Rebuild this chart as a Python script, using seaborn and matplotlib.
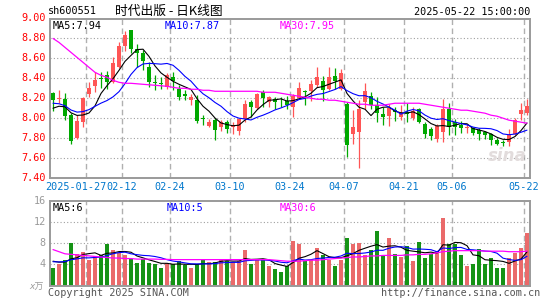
import numpy as np
import pandas as pd
import matplotlib
matplotlib.use("Agg")
import matplotlib.pyplot as plt
import seaborn as sns

# ---------------- data ----------------
open_ = [8.25, 8.19, 8.19, 8.03, 7.80, 7.96, 8.24, 8.32, 8.40, 8.43,
         8.36, 8.51, 8.72, 8.88, 8.69, 8.65, 8.51, 8.36, 8.35, 8.31,
         8.41, 8.29, 8.24, 8.18, 8.18, 8.00, 7.92, 7.98, 7.91, 7.96,
         7.91, 7.87, 7.99, 8.16, 8.10, 8.26, 8.16, 8.19, 8.165, 8.17,
         8.11, 8.20, 8.27, 8.27, 8.33, 8.37, 8.29, 8.42, 8.29, 8.14,
         7.84, 7.86, 8.16, 8.22, 8.13, 8.04, 8.02, 8.08, 8.01, 8.06,
         8.00, 8.09, 7.94, 7.89, 7.79, 7.86, 8.09, 7.96, 7.93, 7.905,
         7.90, 7.88, 7.86, 7.84, 7.78, 7.755, 7.76, 7.84, 8.04, 8.05]
high = [8.26, 8.28, 8.25, 8.05, 8.03, 8.21, 8.36, 8.46, 8.46, 8.47,
        8.61, 8.76, 8.87, 8.88, 8.74, 8.68, 8.56, 8.43, 8.41, 8.45,
        8.46, 8.33, 8.28, 8.24, 8.23, 8.03, 7.99, 8.00, 7.98, 7.98,
        7.96, 8.00, 8.18, 8.18, 8.25, 8.28, 8.22, 8.21, 8.21, 8.22,
        8.24, 8.36, 8.28, 8.38, 8.51, 8.42, 8.51, 8.50, 8.49, 8.16,
        8.08, 8.18, 8.35, 8.26, 8.21, 8.11, 8.14, 8.11, 8.13, 8.15,
        8.11, 8.10, 7.96, 7.91, 7.94, 8.19, 8.15, 7.99, 7.97, 7.94,
        7.91, 7.90, 7.87, 7.85, 7.80, 7.78, 7.89, 8.00, 8.15, 8.19]
low = [8.07, 8.15, 7.98, 7.74, 7.79, 7.91, 8.21, 8.26, 8.30, 8.29,
       8.35, 8.50, 8.67, 8.65, 8.51, 8.48, 8.31, 8.28, 8.29, 8.29,
       8.28, 8.18, 8.18, 8.13, 7.95, 7.93, 7.91, 7.78, 7.87, 7.85,
       7.84, 7.83, 7.96, 8.01, 8.09, 8.11, 8.11, 8.09, 8.11, 8.09,
       8.01, 8.19, 8.13, 8.17, 8.31, 8.17, 8.28, 8.29, 8.28, 7.61,
       7.74, 7.50, 8.09, 8.09, 7.96, 7.93, 7.92, 7.97, 7.98, 7.96,
       7.98, 7.95, 7.80, 7.78, 7.76, 7.76, 7.83, 7.83, 7.85, 7.85,
       7.83, 7.78, 7.79, 7.73, 7.73, 7.72, 7.72, 7.83, 7.98, 8.03]
close = [8.18, 8.20, 8.02, 7.77, 7.97, 8.20, 8.30, 8.38, 8.39, 8.36,
         8.55, 8.72, 8.83, 8.69, 8.65, 8.57, 8.36, 8.35, 8.34, 8.43,
         8.37, 8.21, 8.22, 8.21, 7.97, 7.99, 7.96, 7.88, 7.96, 7.89,
         7.93, 7.99, 8.14, 8.11, 8.24, 8.20, 8.21, 8.16, 8.16, 8.13,
         8.22, 8.30, 8.26, 8.34, 8.41, 8.28, 8.41, 8.37, 8.45, 7.73,
         7.91, 8.09, 8.27, 8.13, 8.05, 8.01, 8.10, 8.06, 8.05, 8.04,
         8.07, 7.96, 7.84, 7.82, 7.92, 8.09, 7.91, 7.91, 7.90, 7.91,
         7.85, 7.84, 7.83, 7.78, 7.74, 7.75, 7.83, 7.98, 8.08, 8.12]
# closes of the 9 sessions before the window (estimated from MA start)
prior_close = [8.25, 8.22, 8.20, 8.18, 8.15, 8.10, 8.05, 8.07, 8.10]

ma30 = [8.80, 8.76, 8.71, 8.66, 8.61, 8.56, 8.51, 8.46, 8.43, 8.41,
        8.38, 8.36, 8.35, 8.35, 8.345, 8.34, 8.335, 8.33, 8.325, 8.32,
        8.31, 8.30, 8.30, 8.29, 8.29, 8.28, 8.28, 8.27, 8.27, 8.27,
        8.27, 8.27, 8.27, 8.27, 8.27, 8.26, 8.26, 8.26, 8.25, 8.24,
        8.23, 8.22, 8.21, 8.20, 8.19, 8.19, 8.18, 8.18, 8.17, 8.16,
        8.15, 8.14, 8.14, 8.13, 8.13, 8.13, 8.14, 8.15, 8.15, 8.15,
        8.15, 8.15, 8.14, 8.13, 8.12, 8.11, 8.10, 8.09, 8.08, 8.08,
        8.07, 8.06, 8.05, 8.03, 8.02, 8.00, 7.98, 7.97, 7.96, 7.95]

volume = [3.3, 4.1, 4.9, 8.1, 5.9, 6.4, 4.9, 5.6, 5.7, 7.9,
          6.7, 6.2, 5.7, 5.0, 4.3, 5.0, 4.3, 4.1, 3.3, 4.3,
          4.1, 4.6, 3.8, 3.3, 4.1, 4.9, 4.5, 4.5, 4.9, 4.7,
          4.5, 4.6, 6.8, 4.1, 4.9, 4.9, 3.7, 3.2, 2.6, 3.7,
          8.5, 7.8, 4.7, 4.9, 7.1, 5.7, 4.9, 3.7, 4.9, 8.9,
          7.8, 8.0, 5.7, 6.8, 10.4, 5.5, 8.9, 6.0, 5.4, 7.5,
          4.7, 8.2, 5.2, 6.0, 6.5, 12.7, 7.8, 7.8, 5.7, 3.7,
          4.0, 7.0, 4.0, 5.2, 3.3, 3.3, 5.2, 6.2, 7.1, 10.0]
prior_volume = [4.5, 4.2, 4.6, 4.3, 4.4, 5.0, 4.8, 5.1, 4.8]
vol_ma30 = [6.8, 6.4, 6.0, 5.9, 5.8, 5.7, 5.6, 5.5, 5.4, 5.3,
            5.2, 5.2, 5.1, 5.1, 5.0, 5.0, 5.0, 5.0, 4.95, 4.95,
            4.9, 4.9, 4.9, 4.9, 4.9, 4.9, 4.9, 4.9, 4.9, 4.9,
            4.9, 4.9, 4.9, 4.9, 4.9, 4.9, 4.9, 4.8, 4.7, 4.6,
            4.6, 4.6, 4.7, 4.8, 4.8, 4.9, 5.0, 5.1, 5.2, 5.3,
            5.4, 5.4, 5.5, 5.6, 5.6, 5.7, 5.7, 5.7, 5.7, 5.8,
            5.8, 5.9, 5.9, 6.0, 6.2, 6.4, 6.5, 6.6, 6.6, 6.6,
            6.6, 6.6, 6.5, 6.5, 6.5, 6.5, 6.4, 6.4, 6.4, 6.5]

date_idx = [6, 12, 20, 30, 40, 49, 59, 67, 79]
date_labels = ["2025-01-27", "02-12", "02-24", "03-10", "03-24",
               "04-07", "04-21", "05-06", "05-22"]
price_ticks = [9.00, 8.80, 8.60, 8.40, 8.20, 8.00, 7.80, 7.60, 7.40]
vol_ticks = [16, 12, 8, 4]

# ---------------- derived ----------------
n = len(close)
idx = np.arange(n)
df = pd.DataFrame({"i": idx, "open": open_, "high": high, "low": low,
                   "close": close, "volume": volume,
                   "ma30": ma30, "vma30": vol_ma30})
df["up"] = np.where(df["close"] >= df["open"], "up", "down")
allc = pd.Series(prior_close + close)
df["ma5"] = allc.rolling(5).mean().iloc[len(prior_close):].values
df["ma10"] = allc.rolling(10).mean().iloc[len(prior_close):].values
allv = pd.Series(prior_volume + volume)
df["vma5"] = allv.rolling(5).mean().iloc[len(prior_volume):].values
df["vma10"] = allv.rolling(10).mean().iloc[len(prior_volume):].values

RED = "#ff5555"
GREEN = "#00a800"
pal = {"up": RED, "down": GREEN}
MONO = "DejaVu Sans Mono"

sns.set_style("white")
plt.rcParams["font.family"] = [MONO, "Noto Sans CJK SC"]

W, H = 545, 300
fig = plt.figure(figsize=(W / 100, H / 100), dpi=100)
fig.patch.set_facecolor("white")


def fx(px):
    return px / W


def fy(py):
    return 1 - py / H


ax = fig.add_axes([fx(50), fy(178), 480 / W, (178 - 18.5) / H])
axv = fig.add_axes([fx(50), fy(285.5), 480 / W, (285.5 - 201) / H])

for a in (ax, axv):
    a.set_xlim(-0.5, n - 0.5)
    for s in a.spines.values():
        s.set_color("#9a9a9a")
        s.set_linewidth(1.4)
    for d in date_idx:
        a.axvline(d - 0.5, color="#b0b0b0", lw=1.0, ls=(0, (4, 2.5)), zorder=0)

# ---- price panel ----
ax.set_ylim(7.40, 9.00)
for t in price_ticks[1:-1]:
    ax.axhline(t, color="#a0a0a0", lw=0.8, ls=(0, (1, 2)), zorder=0)

colors = [pal[u] for u in df["up"]]
ax.vlines(df["i"], df["low"], df["high"], colors=colors, lw=0.9, zorder=2)
body_lo = np.minimum(df["open"], df["close"])
body_h = np.maximum(np.abs(df["close"] - df["open"]), 0.007)
ax.bar(df["i"], body_h, bottom=body_lo, width=0.8, color=colors,
       linewidth=0, zorder=3)

sns.lineplot(data=df, x="i", y="ma5", color="black", lw=0.8, ax=ax, zorder=4)
sns.lineplot(data=df, x="i", y="ma10", color="#0000ff", lw=0.8, ax=ax, zorder=4)
sns.lineplot(data=df, x="i", y="ma30", color="#ff00ff", lw=0.9, ax=ax, zorder=4)
ax.set_xlim(-0.5, n - 0.5)
ax.set_xlabel("")
ax.set_ylabel("")
ax.set_xticks([])
ax.set_yticks([])

# ---- volume panel ----
axv.set_ylim(0, 16)
for t in vol_ticks[1:]:
    axv.axhline(t, color="#a0a0a0", lw=0.8, ls=(0, (1, 2)), zorder=0)
sns.barplot(data=df, x="i", y="volume", hue="up", palette=pal,
            native_scale=True, dodge=False, width=0.82, errorbar=None,
            linewidth=0, legend=False, ax=axv, zorder=2)
sns.lineplot(data=df, x="i", y="vma5", color="black", lw=0.8, ax=axv, zorder=4)
sns.lineplot(data=df, x="i", y="vma10", color="#0000ff", lw=0.8, ax=axv, zorder=4)
sns.lineplot(data=df, x="i", y="vma30", color="#ff00ff", lw=0.9, ax=axv, zorder=4)
axv.set_xlim(-0.5, n - 0.5)
axv.set_xlabel("")
axv.set_ylabel("")
axv.set_xticks([])
axv.set_yticks([])

# ---- texts ----
FS = 7.3
for t in price_ticks:
    y = 118 - (t - 8.00) * 100
    fig.text(fx(46), fy(y), f"{t:.2f}", color="#ff0000", fontsize=FS,
             family=MONO, ha="right", va="center")
for t in vol_ticks:
    y = 285.5 - t * 5.28
    fig.text(fx(46), fy(y), f"{t}", color="#9a9a9a", fontsize=FS,
             family=MONO, ha="right", va="center")
fig.text(fx(44), fy(287), "x万", color="#9a9a9a", fontsize=6.5,
         family=[MONO, "Noto Sans CJK SC"], ha="right", va="center",
         style="italic")

for k, (d, lab) in enumerate(zip(date_idx, date_labels)):
    x = 50 + 6 * d
    if k == 0:
        # long first label ends just before the neighbouring "02-12"
        fig.text(fx(106), fy(187), lab, color="#0077cc", fontsize=FS,
                 family=MONO, ha="right", va="center")
    else:
        fig.text(fx(x), fy(187), lab, color="#0077cc", fontsize=FS,
                 family=MONO, ha="center", va="center")

fig.text(fx(48), fy(11), "sh600551", color="black", fontsize=FS,
         family=MONO, ha="left", va="center")
fig.text(fx(115), fy(11), "时代出版 - 日K线图", color="black", fontsize=9.2,
         family=["Noto Sans CJK SC", MONO], ha="left", va="center")
fig.text(fx(530), fy(12), "2025-05-22 15:00:00", color="black", fontsize=FS,
         family=MONO, ha="right", va="center")

fig.text(fx(53), fy(26), "MA5:7.94", color="black", fontsize=FS,
         family=MONO, ha="left", va="center")
fig.text(fx(165), fy(26), "MA10:7.87", color="#0000ff", fontsize=FS,
         family=MONO, ha="left", va="center")
fig.text(fx(280), fy(26), "MA30:7.95", color="#ff00ff", fontsize=FS,
         family=MONO, ha="left", va="center")
fig.text(fx(53), fy(208), "MA5:6", color="black", fontsize=FS,
         family=MONO, ha="left", va="center")
fig.text(fx(167), fy(208), "MA10:5", color="#0000ff", fontsize=FS,
         family=MONO, ha="left", va="center")
fig.text(fx(280), fy(208), "MA30:6", color="#ff00ff", fontsize=FS,
         family=MONO, ha="left", va="center")

fig.text(fx(48), fy(293), "Copyright 2025 SINA.COM", color="#555555",
         fontsize=FS, family=MONO, ha="left", va="center")
fig.text(fx(540), fy(293), "http://finance.sina.com.cn", color="#555555",
         fontsize=FS, family=MONO, ha="right", va="center")
fig.text(fx(527), fy(156), "sina", color="#e2dcdc", fontsize=12,
         family="DejaVu Sans", weight="bold", style="italic",
         ha="right", va="center", zorder=0)

fig.savefig("out.png", dpi=100, facecolor="white")
